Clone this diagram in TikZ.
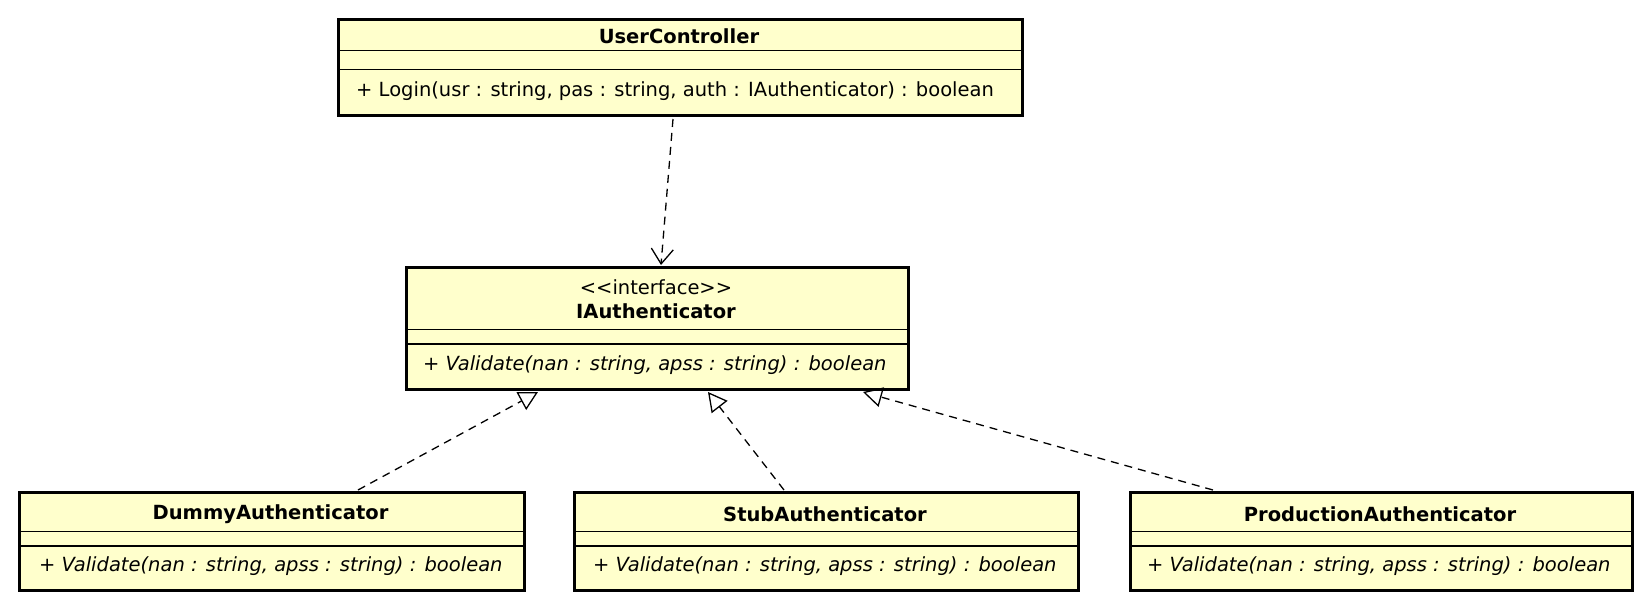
\documentclass[tikz,border=0pt]{standalone}
\usepackage{fontspec}
\setmainfont{DejaVu Sans}
\usetikzlibrary{arrows.meta,calc}
\definecolor{umlfill}{HTML}{FFFFCC}
\begin{document}
\begin{tikzpicture}[x=1pt,y=-1pt,
  cls/.style={draw=black, line width=3pt, fill=umlfill, inner sep=0pt, anchor=north west},
  divline/.style={draw=black, line width=1.3pt},
  cname/.style={font=\fontsize{19.5}{22}\selectfont\bfseries, inner sep=0pt},
  stereo/.style={font=\fontsize{19.5}{22}\selectfont, inner sep=0pt},
  meth/.style={font=\fontsize{19.5}{22}\selectfont, inner sep=0pt, anchor=west},
  imeth/.style={font=\fontsize{19.5}{22}\selectfont\itshape, inner sep=0pt, anchor=west},
  dep/.style={line width=1.3pt, dash pattern=on 8pt off 6pt, -{Straight Barb[length=15pt,width=22pt,line width=1.3pt]}},
  real/.style={line width=1.3pt, dash pattern=on 8pt off 6pt, -{Triangle[open,length=19pt,width=20pt,line width=1.3pt]}}
]
\useasboundingbox (0,0) rectangle (1650,606);

% UserController
\node[cls, minimum width=684pt, minimum height=96pt] (uc) at (337,18) {};
\draw[divline] (337,50.5) -- (1021,50.5);
\draw[divline] (337,69.5) -- (1021,69.5);
\node[cname] (ucn) at (679,36.5) {UserController};
\node[meth] (ucm) at (356,91.5) {+ Login(usr : string, pas : string, auth : IAuthenticator) : boolean};

% IAuthenticator
\node[cls, minimum width=502pt, minimum height=122pt] (ia) at (405,266) {};
\draw[divline] (405,329.5) -- (907,329.5);
\draw[divline] (405,344) -- (907,344);
\node[stereo] (ias) at (656,287) {<{}<interface>{}>};
\node[cname] (ian) at (656,311) {IAuthenticator};
\node[imeth] (iam) at (423,365) {+ Validate(nan : string, apss : string) : boolean};

% DummyAuthenticator
\node[cls, minimum width=505pt, minimum height=98pt] (dum) at (18,491) {};
\draw[divline] (18,531.5) -- (523,531.5);
\draw[divline] (18,546) -- (523,546);
\node[cname] (dumn) at (270.5,514) {DummyAuthenticator};
\node[imeth] (dumm) at (39,566) {+ Validate(nan : string, apss : string) : boolean};

% StubAuthenticator
\node[cls, minimum width=504pt, minimum height=98pt] (stub) at (573,491) {};
\draw[divline] (573,531.5) -- (1077,531.5);
\draw[divline] (573,546) -- (1077,546);
\node[cname] (stubn) at (825,514) {StubAuthenticator};
\node[imeth] (stubm) at (593,566) {+ Validate(nan : string, apss : string) : boolean};

% ProductionAuthenticator
\node[cls, minimum width=502pt, minimum height=98pt] (prod) at (1129,491) {};
\draw[divline] (1129,531.5) -- (1631,531.5);
\draw[divline] (1129,546) -- (1631,546);
\node[cname] (prodn) at (1380,514) {ProductionAuthenticator};
\node[imeth] (prodm) at (1147,566) {+ Validate(nan : string, apss : string) : boolean};

% connectors
\draw[dep] ($(uc.south west)+(336,2)$) -- ($(ia.north west)+(256,-1)$);
\draw[real] ($(dum.north west)+(340,-1)$) -- ($(ia.south west)+(133,1)$);
\draw[real] ($(stub.north west)+(211,-1)$) -- ($(ia.south west)+(303,1)$);
\draw[real] ($(prod.north west)+(84,-1)$) -- ($(ia.south west)+(458,1)$);
\end{tikzpicture}
\end{document}
